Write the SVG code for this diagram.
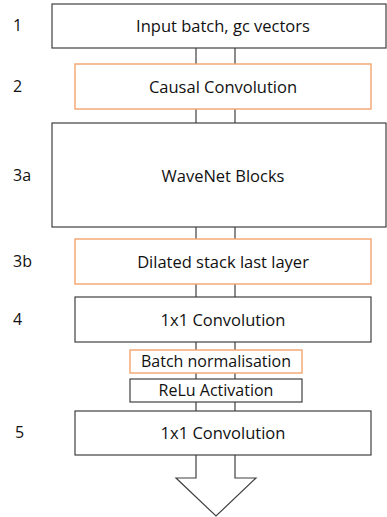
<svg xmlns="http://www.w3.org/2000/svg" width="387" height="517" viewBox="0 0 387 517">
  <style>
    .box { fill: #ffffff; stroke: #404040; stroke-width: 1.2; }
    .hl { fill: #ffffff; stroke: #F4A46E; stroke-width: 1.4; }
    .lbl { font-family: "Open Sans", "Liberation Sans", sans-serif; font-size: 16.5px; fill: #111; text-anchor: middle; dominant-baseline: central; }
    .sm { font-size: 16px; }
    .num { font-family: "Open Sans", "Liberation Sans", sans-serif; font-size: 16px; fill: #111; dominant-baseline: central; }
  </style>
  <rect width="387" height="517" fill="#ffffff"/>

  <!-- block arrow running behind the stack -->
  <g id="connectors">
    <polygon class="box" points="196,40 196,478 176,478 216,516 256,478 235,478 235,40"/>
  </g>

  <g id="n1">
    <rect class="box" x="52" y="4" width="334" height="44"/>
    <text class="lbl" x="223" y="25">Input batch, gc vectors</text>
  </g>
  <g id="n2">
    <rect class="hl" x="75" y="64" width="296" height="45"/>
    <text class="lbl" x="223" y="86">Causal Convolution</text>
  </g>
  <g id="n3a">
    <rect class="box" x="52" y="123" width="334" height="104"/>
    <text class="lbl" x="223" y="175">WaveNet Blocks</text>
  </g>
  <g id="n3b">
    <rect class="hl" x="75" y="239" width="296" height="45"/>
    <text class="lbl" x="223" y="261">Dilated stack last layer</text>
  </g>
  <g id="n4">
    <rect class="box" x="75" y="297" width="296" height="45"/>
    <text class="lbl" x="223" y="319">1x1 Convolution</text>
  </g>
  <g id="nbn">
    <rect class="hl" x="130" y="350" width="172" height="23"/>
    <text class="lbl sm" x="216" y="361">Batch normalisation</text>
  </g>
  <g id="nrelu">
    <rect class="box" x="130" y="379" width="172" height="23"/>
    <text class="lbl sm" x="216" y="390">ReLu Activation</text>
  </g>
  <g id="n5">
    <rect class="box" x="75" y="411" width="296" height="44"/>
    <text class="lbl" x="223" y="432">1x1 Convolution</text>
  </g>

  <g id="numbers">
    <text class="num" x="13" y="25">1</text>
    <text class="num" x="13" y="86">2</text>
    <text class="num" x="13" y="175">3a</text>
    <text class="num" x="13" y="261">3b</text>
    <text class="num" x="13" y="319">4</text>
    <text class="num" x="15" y="432">5</text>
  </g>
</svg>
